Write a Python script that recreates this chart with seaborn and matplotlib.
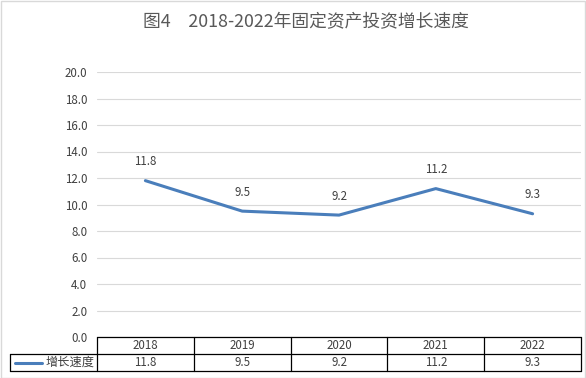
import matplotlib
matplotlib.use("Agg")
import matplotlib.pyplot as plt
import seaborn as sns
import pandas as pd
from matplotlib.patches import Rectangle
from matplotlib.lines import Line2D

years = ["2018", "2019", "2020", "2021", "2022"]
growth = [11.8, 9.5, 9.2, 11.2, 9.3]
series_name = "增长速度"
title = "图4\u30002018-2022年固定资产投资增长速度"
yticks = [0, 2, 4, 6, 8, 10, 12, 14, 16, 18, 20]

sns.set_theme(style="white")
plt.rcParams['font.family'] = ['Noto Sans CJK SC', 'DejaVu Sans']

W, H = 586, 378
fig = plt.figure(figsize=(W / 100, H / 100), dpi=100)
x0, x1, ytop, ybot = 97, 581, 72, 337
ax = fig.add_axes([x0 / W, 1 - ybot / H, (x1 - x0) / W, (ybot - ytop) / H])

df = pd.DataFrame({"year": years, "growth": growth, "pos": range(len(years))})
line_color = "#4A7EBB"
sns.lineplot(data=df, x="pos", y="growth", ax=ax, color=line_color, linewidth=2.2, legend=False)

fs = 8.3
ax.set_xlim(-0.5, len(years) - 0.5)
ax.set_ylim(0, 20)
ax.set_yticks(yticks)
ax.set_yticklabels([f"{v:.1f}" for v in yticks], fontsize=fs, color="#404040")
ax.tick_params(axis="y", length=0, pad=7)
ax.set_xticks([])
ax.set_xlabel("")
ax.set_ylabel("")
ax.grid(axis="y", color="#D9D9D9", linewidth=0.8)
for s in ["left", "right", "top", "bottom"]:
    ax.spines[s].set_visible(False)

for i, v in enumerate(growth):
    ax.annotate(f"{v:.1f}", (i, v), xytext=(0, 9), textcoords="offset points",
                ha="center", va="bottom", fontsize=fs, color="#404040")

# data table
row_h = 17 / (ybot - ytop)
n = len(years)
trans = ax.get_xaxis_transform()
lk = dict(color="black", linewidth=0.9, clip_on=False, transform=trans)
legend_left = -0.5 - (x0 - 10) / ((x1 - x0) / n)
ax.add_line(Line2D([-0.5, n - 0.5], [0, 0], **lk))
ax.add_line(Line2D([legend_left, n - 0.5], [-row_h, -row_h], **lk))
ax.add_line(Line2D([legend_left, n - 0.5], [-2 * row_h, -2 * row_h], **lk))
ax.add_line(Line2D([legend_left, legend_left], [-row_h, -2 * row_h], **lk))
for k in range(n + 1):
    ax.add_line(Line2D([k - 0.5, k - 0.5], [0, -2 * row_h], **lk))
for i, (yr, v) in enumerate(zip(years, growth)):
    ax.text(i, -0.5 * row_h, yr, transform=trans, ha="center", va="center",
            fontsize=fs, color="#404040")
    ax.text(i, -1.5 * row_h, f"{v:.1f}", transform=trans, ha="center", va="center",
            fontsize=fs, color="#404040")
ax.add_line(Line2D([legend_left + 0.05, legend_left + 0.33], [-1.5 * row_h, -1.5 * row_h],
                   color=line_color, linewidth=2.2, clip_on=False, transform=trans))
ax.text(legend_left + 0.37, -1.5 * row_h, series_name, transform=trans, ha="left",
        va="center", fontsize=8.8, color="#404040")

fig.text(306 / W, 1 - 22 / H, title, ha="center", va="center", fontsize=12.8, color="#595959")
fig.add_artist(Rectangle((0.5 / W, 0.5 / H), (W - 1.5) / W, (H - 1.5) / H, transform=fig.transFigure,
                         fill=False, edgecolor="#D9D9D9", linewidth=1))

fig.savefig("out.png", dpi=100)
